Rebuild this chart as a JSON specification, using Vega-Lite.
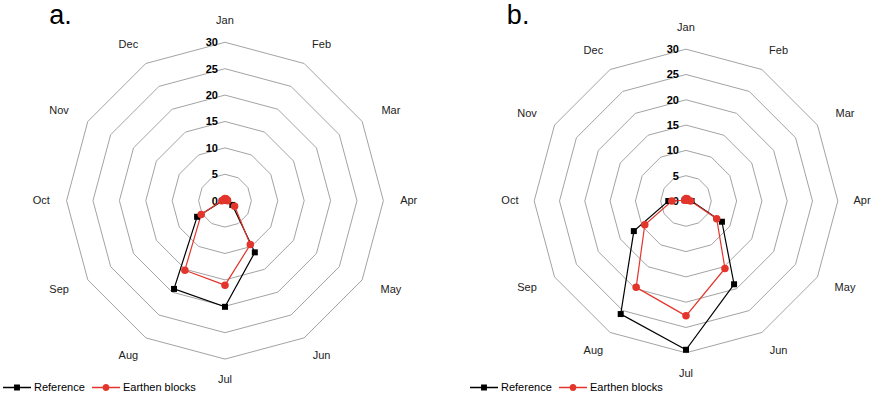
{
  "$schema": "https://vega.github.io/schema/vega-lite/v6.json",
  "padding": 0,
  "spacing": 0,
  "background": "white",
  "config": {
    "view": {"stroke": null},
    "legend": {
      "orient": "none",
      "direction": "horizontal",
      "title": null,
      "labelFont": "Liberation Sans",
      "labelFontSize": 11,
      "labelColor": "#000000",
      "labelOffset": 3,
      "columnPadding": 7,
      "symbolSize": 784,
      "symbolOpacity": 1,
      "symbolStrokeWidth": 0
    }
  },
  "datasets": {
    "grid": [
      {"level": 5, "m": [0,1,2,3,4,5,6,7,8,9,10,11,12]},
      {"level": 10, "m": [0,1,2,3,4,5,6,7,8,9,10,11,12]},
      {"level": 15, "m": [0,1,2,3,4,5,6,7,8,9,10,11,12]},
      {"level": 20, "m": [0,1,2,3,4,5,6,7,8,9,10,11,12]},
      {"level": 25, "m": [0,1,2,3,4,5,6,7,8,9,10,11,12]},
      {"level": 30, "m": [0,1,2,3,4,5,6,7,8,9,10,11,12]}
    ],
    "ticks": [
      {"level": 0}, {"level": 5}, {"level": 10}, {"level": 15}, {"level": 20}, {"level": 25}, {"level": 30}
    ],
    "months": [
      {"month": "Jan", "m": 0}, {"month": "Feb", "m": 1}, {"month": "Mar", "m": 2},
      {"month": "Apr", "m": 3}, {"month": "May", "m": 4}, {"month": "Jun", "m": 5},
      {"month": "Jul", "m": 6}, {"month": "Aug", "m": 7}, {"month": "Sep", "m": 8},
      {"month": "Oct", "m": 9}, {"month": "Nov", "m": 10}, {"month": "Dec", "m": 11}
    ],
    "a": [
      {"s": "Reference", "m": 0, "v": 0.3}, {"s": "Reference", "m": 1, "v": 0.3},
      {"s": "Reference", "m": 2, "v": 0.3}, {"s": "Reference", "m": 3, "v": 0.5},
      {"s": "Reference", "m": 4, "v": 1.6}, {"s": "Reference", "m": 5, "v": 11.3},
      {"s": "Reference", "m": 6, "v": 20.1}, {"s": "Reference", "m": 7, "v": 19.3},
      {"s": "Reference", "m": 8, "v": 6.1}, {"s": "Reference", "m": 9, "v": 0.4},
      {"s": "Reference", "m": 10, "v": 0.2}, {"s": "Reference", "m": 11, "v": 0.2},
      {"s": "Reference", "m": 12, "v": 0.3},
      {"s": "Earthen blocks", "m": 0, "v": 0.4}, {"s": "Earthen blocks", "m": 1, "v": 0.4},
      {"s": "Earthen blocks", "m": 2, "v": 0.3}, {"s": "Earthen blocks", "m": 3, "v": 0.5},
      {"s": "Earthen blocks", "m": 4, "v": 2.1}, {"s": "Earthen blocks", "m": 5, "v": 9.6},
      {"s": "Earthen blocks", "m": 6, "v": 16.0}, {"s": "Earthen blocks", "m": 7, "v": 15.2},
      {"s": "Earthen blocks", "m": 8, "v": 5.2}, {"s": "Earthen blocks", "m": 9, "v": 0.6},
      {"s": "Earthen blocks", "m": 10, "v": 0.3}, {"s": "Earthen blocks", "m": 11, "v": 0.3},
      {"s": "Earthen blocks", "m": 12, "v": 0.4}
    ],
    "b": [
      {"s": "Reference", "m": 0, "v": 0.3}, {"s": "Reference", "m": 1, "v": 0.3},
      {"s": "Reference", "m": 2, "v": 0.3}, {"s": "Reference", "m": 3, "v": 1.1},
      {"s": "Reference", "m": 4, "v": 8.2}, {"s": "Reference", "m": 5, "v": 19.0},
      {"s": "Reference", "m": 6, "v": 29.4}, {"s": "Reference", "m": 7, "v": 25.8},
      {"s": "Reference", "m": 8, "v": 11.9}, {"s": "Reference", "m": 9, "v": 3.5},
      {"s": "Reference", "m": 10, "v": 0.3}, {"s": "Reference", "m": 11, "v": 0.3},
      {"s": "Reference", "m": 12, "v": 0.3},
      {"s": "Earthen blocks", "m": 0, "v": 0.5}, {"s": "Earthen blocks", "m": 1, "v": 0.5},
      {"s": "Earthen blocks", "m": 2, "v": 0.3}, {"s": "Earthen blocks", "m": 3, "v": 0.9},
      {"s": "Earthen blocks", "m": 4, "v": 7.0}, {"s": "Earthen blocks", "m": 5, "v": 15.4},
      {"s": "Earthen blocks", "m": 6, "v": 22.7}, {"s": "Earthen blocks", "m": 7, "v": 19.7},
      {"s": "Earthen blocks", "m": 8, "v": 9.4}, {"s": "Earthen blocks", "m": 9, "v": 2.8},
      {"s": "Earthen blocks", "m": 10, "v": 0.3}, {"s": "Earthen blocks", "m": 11, "v": 0.3},
      {"s": "Earthen blocks", "m": 12, "v": 0.5}
    ]
  },
  "resolve": {"legend": {"color": "independent", "shape": "independent"}},
  "hconcat": [
    {
      "width": 460,
      "height": 399,
      "layer": [
        {
          "data": {"name": "a"},
          "transform": [
            {"filter": "datum.m < 12"},
            {"calculate": "datum.v * sin(datum.m * PI / 6)", "as": "x"},
            {"calculate": "datum.v * cos(datum.m * PI / 6)", "as": "y"}
          ],
          "mark": {"type": "point", "filled": true, "opacity": 0},
          "encoding": {
            "x": {"field": "x", "type": "quantitative", "scale": {"domain": [-42.61, 44.51], "nice": false, "zero": false}, "axis": null},
            "y": {"field": "y", "type": "quantitative", "scale": {"domain": [-37.56, 38.01], "nice": false, "zero": false}, "axis": null},
            "color": {
              "field": "s", "type": "nominal",
              "scale": {"domain": ["Reference", "Earthen blocks"], "range": ["#000000", "#e3352b"]},
              "legend": {"orient": "none", "legendX": 3, "legendY": 373.5, "symbolOpacity": 1, "symbolSize": 784}
            },
            "shape": {
              "field": "s", "type": "nominal",
              "scale": {"domain": ["Reference", "Earthen blocks"], "range": [
                "M-1,-0.045H-0.21V0.045H-1Z M0.21,-0.045H1V0.045H0.21Z M-0.21,-0.21H0.21V0.21H-0.21Z",
                "M-1,-0.045H-0.25V0.045H-1Z M0.25,-0.045H1V0.045H0.25Z M-0.25,0A0.25,0.25 0 1,1 0.25,0A0.25,0.25 0 1,1 -0.25,0Z"
              ]},
              "legend": {"orient": "none", "legendX": 3, "legendY": 373.5, "symbolOpacity": 1, "symbolSize": 784}
            }
          }
        },
        {
          "data": {"name": "grid"},
          "transform": [
            {"flatten": ["m"]},
            {"calculate": "datum.level * sin(datum.m * PI / 6)", "as": "x"},
            {"calculate": "datum.level * cos(datum.m * PI / 6)", "as": "y"}
          ],
          "mark": {"type": "line", "stroke": "#a3a3a3", "strokeWidth": 1},
          "encoding": {
            "x": {"field": "x", "type": "quantitative"},
            "y": {"field": "y", "type": "quantitative"},
            "order": {"field": "m"},
            "detail": {"field": "level"}
          }
        },
        {
          "data": {"name": "ticks"},
          "mark": {"type": "text", "align": "right", "baseline": "middle", "dx": -7, "dy": 1, "font": "Liberation Sans", "fontSize": 11, "fontWeight": "bold", "color": "#000000"},
          "encoding": {
            "x": {"datum": 0},
            "y": {"field": "level", "type": "quantitative"},
            "text": {"field": "level", "type": "quantitative"}
          }
        },
        {
          "data": {"name": "months"},
          "transform": [
            {"calculate": "sin(datum.m * PI / 6)", "as": "sn"},
            {"calculate": "36.6 - 1.8 * pow(abs(datum.sn), 12)", "as": "rx"},
            {"calculate": "datum.rx * datum.sn", "as": "x"},
            {"calculate": "34.0 * cos(datum.m * PI / 6)", "as": "y"}
          ],
          "mark": {"type": "text", "align": "center", "baseline": "middle", "font": "Liberation Sans", "fontSize": 11, "color": "#222222"},
          "encoding": {
            "x": {"field": "x", "type": "quantitative"},
            "y": {"field": "y", "type": "quantitative"},
            "text": {"field": "month"}
          }
        },
        {
          "data": {"name": "a"},
          "transform": [
            {"calculate": "datum.v * sin(datum.m * PI / 6)", "as": "x"},
            {"calculate": "datum.v * cos(datum.m * PI / 6)", "as": "y"}
          ],
          "mark": {"type": "line", "strokeWidth": 1.2},
          "encoding": {
            "x": {"field": "x", "type": "quantitative"},
            "y": {"field": "y", "type": "quantitative"},
            "order": {"field": "m"},
            "color": {"field": "s", "type": "nominal"}
          }
        },
        {
          "data": {"name": "a"},
          "transform": [
            {"filter": "datum.m < 12 && datum.s === 'Reference'"},
            {"calculate": "datum.v * sin(datum.m * PI / 6)", "as": "x"},
            {"calculate": "datum.v * cos(datum.m * PI / 6)", "as": "y"}
          ],
          "mark": {"type": "point", "shape": "square", "size": 36, "filled": true, "opacity": 1, "strokeWidth": 0, "color": "#000000"},
          "encoding": {
            "x": {"field": "x", "type": "quantitative"},
            "y": {"field": "y", "type": "quantitative"}
          }
        },
        {
          "data": {"name": "a"},
          "transform": [
            {"filter": "datum.m < 12 && datum.s === 'Earthen blocks'"},
            {"calculate": "datum.v * sin(datum.m * PI / 6)", "as": "x"},
            {"calculate": "datum.v * cos(datum.m * PI / 6)", "as": "y"}
          ],
          "mark": {"type": "point", "shape": "circle", "size": 56, "filled": true, "opacity": 1, "strokeWidth": 0, "color": "#e3352b"},
          "encoding": {
            "x": {"field": "x", "type": "quantitative"},
            "y": {"field": "y", "type": "quantitative"}
          }
        },
        {
          "data": {"values": [{"t": "a."}]},
          "mark": {"type": "text", "align": "left", "baseline": "alphabetic", "font": "Liberation Sans", "fontSize": 27, "color": "#000000"},
          "encoding": {
            "x": {"datum": -33.3},
            "y": {"datum": 33.37},
            "text": {"field": "t"}
          }
        }
      ]
    },
    {
      "width": 415,
      "height": 399,
      "layer": [
        {
          "data": {"name": "b"},
          "transform": [
            {"filter": "datum.m < 12"},
            {"calculate": "datum.v * sin(datum.m * PI / 6)", "as": "x"},
            {"calculate": "datum.v * cos(datum.m * PI / 6)", "as": "y"}
          ],
          "mark": {"type": "point", "filled": true, "opacity": 0},
          "encoding": {
            "x": {"field": "x", "type": "quantitative", "scale": {"domain": [-44.66, 37.35], "nice": false, "zero": false}, "axis": null},
            "y": {"field": "y", "type": "quantitative", "scale": {"domain": [-39.13, 39.72], "nice": false, "zero": false}, "axis": null},
            "color": {
              "field": "s", "type": "nominal",
              "scale": {"domain": ["Reference", "Earthen blocks"], "range": ["#000000", "#e3352b"]},
              "legend": {"orient": "none", "legendX": 10, "legendY": 373.5, "symbolOpacity": 1, "symbolSize": 784}
            },
            "shape": {
              "field": "s", "type": "nominal",
              "scale": {"domain": ["Reference", "Earthen blocks"], "range": [
                "M-1,-0.045H-0.21V0.045H-1Z M0.21,-0.045H1V0.045H0.21Z M-0.21,-0.21H0.21V0.21H-0.21Z",
                "M-1,-0.045H-0.25V0.045H-1Z M0.25,-0.045H1V0.045H0.25Z M-0.25,0A0.25,0.25 0 1,1 0.25,0A0.25,0.25 0 1,1 -0.25,0Z"
              ]},
              "legend": {"orient": "none", "legendX": 10, "legendY": 373.5, "symbolOpacity": 1, "symbolSize": 784}
            }
          }
        },
        {
          "data": {"name": "grid"},
          "transform": [
            {"flatten": ["m"]},
            {"calculate": "datum.level * sin(datum.m * PI / 6)", "as": "x"},
            {"calculate": "datum.level * cos(datum.m * PI / 6)", "as": "y"}
          ],
          "mark": {"type": "line", "stroke": "#a3a3a3", "strokeWidth": 1},
          "encoding": {
            "x": {"field": "x", "type": "quantitative"},
            "y": {"field": "y", "type": "quantitative"},
            "order": {"field": "m"},
            "detail": {"field": "level"}
          }
        },
        {
          "data": {"name": "ticks"},
          "mark": {"type": "text", "align": "right", "baseline": "middle", "dx": -7, "dy": 1, "font": "Liberation Sans", "fontSize": 11, "fontWeight": "bold", "color": "#000000"},
          "encoding": {
            "x": {"datum": 0},
            "y": {"field": "level", "type": "quantitative"},
            "text": {"field": "level", "type": "quantitative"}
          }
        },
        {
          "data": {"name": "months"},
          "transform": [
            {"calculate": "sin(datum.m * PI / 6)", "as": "sn"},
            {"calculate": "36.6 - 1.8 * pow(abs(datum.sn), 12)", "as": "rx"},
            {"calculate": "datum.rx * datum.sn", "as": "x"},
            {"calculate": "34.2 * cos(datum.m * PI / 6)", "as": "y"}
          ],
          "mark": {"type": "text", "align": "center", "baseline": "middle", "font": "Liberation Sans", "fontSize": 11, "color": "#222222"},
          "encoding": {
            "x": {"field": "x", "type": "quantitative"},
            "y": {"field": "y", "type": "quantitative"},
            "text": {"field": "month"}
          }
        },
        {
          "data": {"name": "b"},
          "transform": [
            {"calculate": "datum.v * sin(datum.m * PI / 6)", "as": "x"},
            {"calculate": "datum.v * cos(datum.m * PI / 6)", "as": "y"}
          ],
          "mark": {"type": "line", "strokeWidth": 1.2},
          "encoding": {
            "x": {"field": "x", "type": "quantitative"},
            "y": {"field": "y", "type": "quantitative"},
            "order": {"field": "m"},
            "color": {"field": "s", "type": "nominal"}
          }
        },
        {
          "data": {"name": "b"},
          "transform": [
            {"filter": "datum.m < 12 && datum.s === 'Reference'"},
            {"calculate": "datum.v * sin(datum.m * PI / 6)", "as": "x"},
            {"calculate": "datum.v * cos(datum.m * PI / 6)", "as": "y"}
          ],
          "mark": {"type": "point", "shape": "square", "size": 36, "filled": true, "opacity": 1, "strokeWidth": 0, "color": "#000000"},
          "encoding": {
            "x": {"field": "x", "type": "quantitative"},
            "y": {"field": "y", "type": "quantitative"}
          }
        },
        {
          "data": {"name": "b"},
          "transform": [
            {"filter": "datum.m < 12 && datum.s === 'Earthen blocks'"},
            {"calculate": "datum.v * sin(datum.m * PI / 6)", "as": "x"},
            {"calculate": "datum.v * cos(datum.m * PI / 6)", "as": "y"}
          ],
          "mark": {"type": "point", "shape": "circle", "size": 56, "filled": true, "opacity": 1, "strokeWidth": 0, "color": "#e3352b"},
          "encoding": {
            "x": {"field": "x", "type": "quantitative"},
            "y": {"field": "y", "type": "quantitative"}
          }
        },
        {
          "data": {"values": [{"t": "b."}]},
          "mark": {"type": "text", "align": "left", "baseline": "alphabetic", "font": "Liberation Sans", "fontSize": 27, "color": "#000000"},
          "encoding": {
            "x": {"datum": -35.4},
            "y": {"datum": 34.9},
            "text": {"field": "t"}
          }
        }
      ]
    }
  ]
}
